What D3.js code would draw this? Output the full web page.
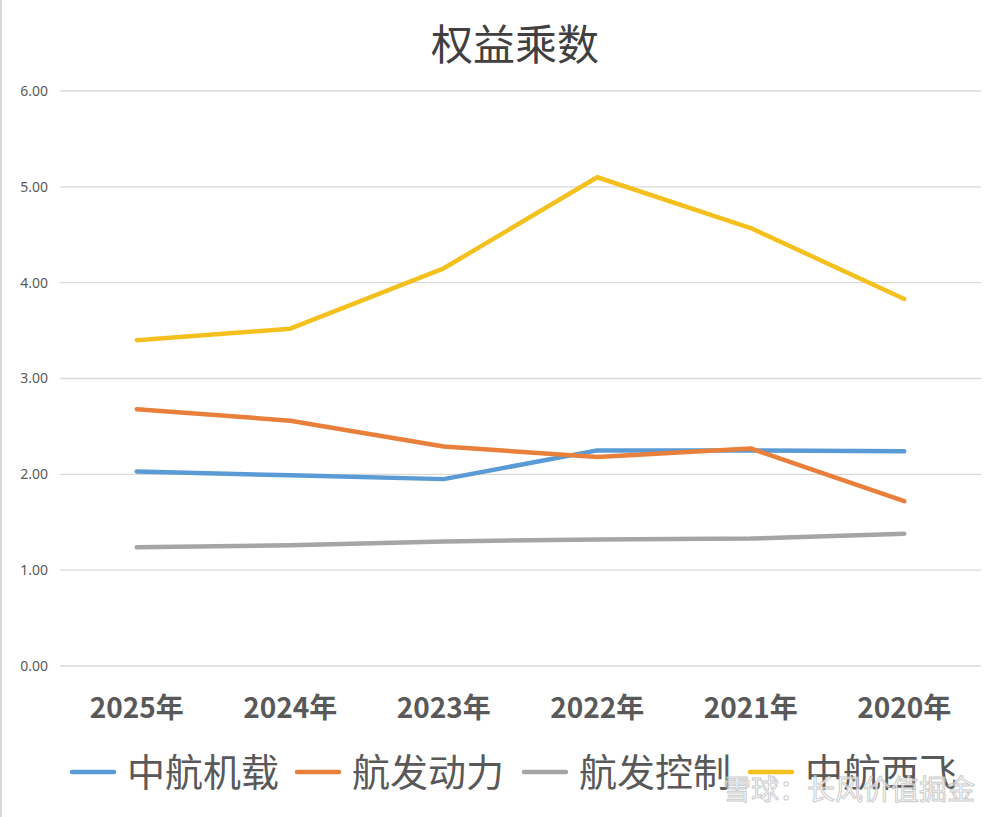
<!DOCTYPE html>
<meta charset="utf-8">
<script src="https://d3js.org/d3.v7.min.js"></script>
<style>
  body { margin: 0; background: #fff; }
  text { font-family: "Noto Sans CJK SC", "Noto Sans", sans-serif; }
</style>
<svg id="chart" width="1005" height="817"></svg>
<script>

// categories and values
var years = ["2025年", "2024年", "2023年", "2022年", "2021年", "2020年"];
var seriesNames = ["中航机载", "航发动力", "航发控制", "中航西飞"];
var seriesColors = ["#5b9bd5", "#e87f3a", "#a5a5a5", "#f4c01e"];
var zhjz = [2.03, 1.99, 1.95, 2.25, 2.25, 2.24];
var hfdl = [2.68, 2.56, 2.29, 2.18, 2.27, 1.72];
var hfkz = [1.24, 1.26, 1.30, 1.32, 1.33, 1.38];
var zhxf = [3.40, 3.52, 4.15, 5.10, 4.57, 3.83];
var yTicks = [0, 1, 2, 3, 4, 5, 6];

var series = [zhjz, hfdl, hfkz, zhxf];

var svg = d3.select("#chart");

// thin border on the left edge like the original screenshot
svg.append("line")
    .attr("x1", 1).attr("x2", 1).attr("y1", 0).attr("y2", 817)
    .attr("stroke", "#d9d9d9").attr("stroke-width", 2);

// title
svg.append("text")
    .attr("x", 515).attr("y", 60)
    .attr("text-anchor", "middle")
    .style("font-size", "42px")
    .style("fill", "#404040")
    .text("权益乘数");

var x = d3.scaleBand()
    .domain(years)
    .range([60, 981]);

var y = d3.scaleLinear()
    .domain([0, 6])
    .range([666, 91]);

// gridlines
svg.append("g")
  .selectAll("line")
  .data(yTicks)
  .enter()
  .append("line")
    .attr("x1", 60).attr("x2", 981)
    .attr("y1", function(d){ return y(d) })
    .attr("y2", function(d){ return y(d) })
    .attr("stroke", "#d9d9d9")
    .attr("stroke-width", 1.3);

// y axis labels
var yAxis = d3.axisLeft(y).tickValues(yTicks).tickFormat(d3.format(".2f")).tickSize(0).tickPadding(12);
var ga = svg.append("g").attr("transform", "translate(60,0)").call(yAxis);
ga.select(".domain").remove();
ga.selectAll("text")
    .style("font-family", "'Noto Sans', sans-serif")
    .style("font-size", "14px")
    .style("fill", "#595959");

// x axis labels
var xAxis = d3.axisBottom(x).tickSize(0).tickPadding(16);
var gx = svg.append("g").attr("transform", "translate(0,682)").call(xAxis);
gx.select(".domain").remove();
gx.selectAll("text")
    .style("font-family", "'Noto Sans CJK SC', sans-serif")
    .style("font-size", "28px")
    .style("font-weight", "bold")
    .style("fill", "#595959");

// lines
var line = d3.line()
    .x(function(d, i){ return x(years[i]) + x.bandwidth() / 2 })
    .y(function(d){ return y(d) });

svg.append("g")
  .selectAll("path")
  .data(series)
  .enter()
  .append("path")
    .attr("d", line)
    .attr("fill", "none")
    .attr("stroke", function(d, i){ return seriesColors[i] })
    .attr("stroke-width", 4.5)
    .attr("stroke-linejoin", "round")
    .attr("stroke-linecap", "round");

// legend
var legendX = [72, 297, 524, 750];
var lg = svg.append("g")
  .selectAll("g")
  .data(seriesNames)
  .enter()
  .append("g")
    .attr("transform", function(d, i){ return "translate(" + legendX[i] + ",772)" });
lg.append("line")
    .attr("x1", 0).attr("x2", 42).attr("y1", 0).attr("y2", 0)
    .attr("stroke", function(d, i){ return seriesColors[i] })
    .attr("stroke-width", 4.5)
    .attr("stroke-linecap", "round");
lg.append("text")
    .attr("x", 55).attr("y", 14)
    .style("font-size", "38px")
    .style("fill", "#595959")
    .text(function(d){ return d });

// watermark
svg.append("text")
    .attr("x", 975).attr("y", 800)
    .attr("text-anchor", "end")
    .style("font-size", "28px")
    .style("fill", "#ffffff")
    .style("stroke", "#bfbfbf")
    .style("stroke-width", 1)
    .style("opacity", 0.8)
    .text("雪球：长风价值掘金");

</script>
